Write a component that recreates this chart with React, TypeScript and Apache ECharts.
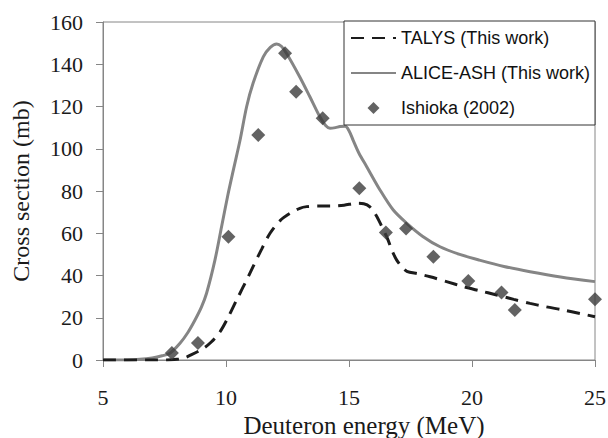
import React, { useEffect, useRef } from "react";
import * as echarts from "echarts";

const xTicks = [5, 10, 15, 20, 25];
const yTicks = [0, 20, 40, 60, 80, 100, 120, 140, 160];

const talysData: [number, number][] = [
  [5, 0], [7, 0], [7.6, 0], [8.0, 0.3], [8.26, 0.8], [8.6, 2.5], [9.08, 5.5], [9.4, 8.5],
  [9.76, 13.4], [10.1, 20.5], [10.43, 28.4], [10.76, 36], [11.1, 44.2], [11.45, 52.5],
  [11.79, 60], [12.2, 66], [12.6, 69.4], [13.0, 71.8], [13.28, 72.6], [13.8, 72.9],
  [14.23, 72.9], [14.8, 73.3], [15.31, 74.2], [15.6, 74], [15.85, 72.5], [16.1, 68.5],
  [16.3, 64], [16.53, 58.4], [16.8, 50.5], [16.94, 47.3], [17.15, 44], [17.35, 42],
  [17.8, 40.8], [18.3, 39.4], [19.0, 37], [19.65, 34.7], [20.3, 32.8], [21.0, 30.8],
  [21.7, 28.7], [22.36, 26.8], [23.0, 25.2], [23.71, 23.7], [24.4, 22], [25, 20.5],
];

const aliceData: [number, number][] = [
  [5, 0], [6, 0], [6.5, 0.3], [7, 1], [7.4, 2], [7.72, 3.2], [8.13, 7.9], [8.45, 13],
  [8.74, 18.9], [9.0, 25], [9.21, 31.6], [9.55, 47.3], [9.82, 63.1], [10.09, 78.9],
  [10.3, 90], [10.57, 104], [10.84, 120], [11.1, 131], [11.52, 143.6], [11.8, 148],
  [12.06, 149.6], [12.25, 148.5], [12.47, 145], [13.0, 134], [13.41, 124.6], [13.82, 115],
  [14.05, 111], [14.23, 109.7], [14.45, 110], [14.63, 110.5], [14.85, 110.6], [15.0, 108.5],
  [15.17, 104], [15.4, 98], [15.72, 91.5], [16.26, 80.5], [16.8, 71], [17.35, 64.7],
  [18.0, 58.5], [18.7, 53.6], [19.5, 50], [20.3, 47.3], [21.3, 44.3], [22.36, 41.8],
  [23.6, 39.3], [25, 37.1],
];

const ishiokaData: [number, number][] = [
  [7.8, 3.3], [8.86, 8], [10.1, 58.4], [11.31, 106.5], [12.4, 145.2], [12.85, 127],
  [13.93, 114.4], [15.42, 81.3], [16.5, 60.4], [17.32, 62.3], [18.43, 48.9], [19.85, 37.4],
  [21.2, 31.9], [21.74, 23.7], [25, 28.7],
];

const seriesNames = ["TALYS (This work)", "ALICE-ASH (This work)", "Ishioka (2002)"];

export default function App() {
  const ref = useRef<HTMLDivElement>(null);
  useEffect(() => {
    if (!ref.current) return;
    const chart = echarts.init(ref.current, undefined, { renderer: "svg" });
    const axisGray = "#868686";
    const serif = "'Liberation Serif', 'Times New Roman', serif";
    const hiddenSymbol = { opacity: 0, borderWidth: 0 };
    chart.setOption({
      animation: false,
      backgroundColor: "#ffffff",
      grid: {
        left: 103,
        top: 22,
        right: 13,
        bottom: 78,
        show: true,
        borderColor: axisGray,
        borderWidth: 1,
        outerBoundsMode: "none",
        containLabel: false,
      },
      legend: {
        orient: "vertical",
        left: 344,
        top: 21,
        backgroundColor: "#ffffff",
        borderColor: "#333333",
        borderWidth: 1,
        borderRadius: 0,
        padding: [8, 5, 8, 6],
        itemWidth: 45,
        itemHeight: 12,
        itemGap: 17,
        symbolKeepAspect: true,
        textStyle: {
          fontFamily: "'Liberation Sans', Arial, sans-serif",
          fontSize: 18,
          color: "#111111",
        },
        data: [
          { name: seriesNames[0], itemStyle: hiddenSymbol },
          { name: seriesNames[1], itemStyle: hiddenSymbol },
          { name: seriesNames[2], icon: "path://M0,-1L1,0L0,1L-1,0Z" },
        ],
      },
      xAxis: {
        type: "value",
        min: xTicks[0],
        max: xTicks[xTicks.length - 1],
        interval: 5,
        name: "Deuteron energy (MeV)",
        nameLocation: "middle",
        nameGap: 50,
        nameTextStyle: {
          fontFamily: serif,
          fontSize: 25,
          color: "#1a1a1a",
          padding: [0, 0, 0, 30],
        },
        axisLine: { lineStyle: { color: axisGray, width: 1 } },
        axisTick: { show: true, length: 7, lineStyle: { color: axisGray } },
        axisLabel: { fontFamily: serif, fontSize: 22, color: "#1a1a1a", margin: 26 },
        splitLine: { show: false },
      },
      yAxis: {
        type: "value",
        min: yTicks[0],
        max: yTicks[yTicks.length - 1],
        interval: 20,
        name: "Cross section (mb)",
        nameLocation: "middle",
        nameGap: 70,
        nameTextStyle: { fontFamily: serif, fontSize: 24, color: "#1a1a1a" },
        axisLine: { show: true, lineStyle: { color: axisGray, width: 1 } },
        axisTick: { show: true, length: 7, lineStyle: { color: axisGray } },
        axisLabel: { fontFamily: serif, fontSize: 22, color: "#1a1a1a", margin: 20 },
        splitLine: { show: false },
      },
      series: [
        {
          name: seriesNames[0],
          type: "line",
          data: talysData,
          smooth: 0.3,
          symbol: "none",
          lineStyle: { color: "#1c1c1c", width: 3, type: [13, 8] },
          itemStyle: { color: "#1c1c1c" },
          z: 3,
        },
        {
          name: seriesNames[1],
          type: "line",
          data: aliceData,
          smooth: 0.3,
          symbol: "none",
          lineStyle: { color: "#858585", width: 3 },
          itemStyle: { color: "#858585" },
          z: 2,
        },
        {
          name: seriesNames[2],
          type: "scatter",
          data: ishiokaData,
          symbol: "diamond",
          symbolSize: 14,
          itemStyle: { color: "#3c3c3c" },
          z: 4,
        },
      ],
    });
    return () => chart.dispose();
  }, []);
  return (
    <div
      ref={ref}
      style={{ position: "absolute", left: 0, top: 0, width: 608, height: 438 }}
    />
  );
}
